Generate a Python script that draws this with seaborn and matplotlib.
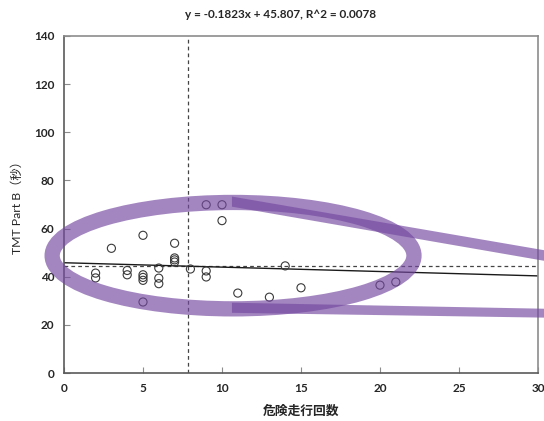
import numpy as np
import pandas as pd
import matplotlib
matplotlib.use("Agg")
import matplotlib.pyplot as plt
from matplotlib.patches import Ellipse, Polygon
import seaborn as sns

# Observations: dangerous-driving count vs. TMT Part B time (s)
danger_count = [2, 2, 3, 4, 4, 5, 5, 5, 5, 5, 6, 6, 6, 7, 7, 7, 7, 8,
                9, 9, 9, 10, 10, 11, 13, 14, 15, 20, 21]
tmt_b_sec = [41.5, 39.5, 51.8, 42.6, 40.8, 57.2, 40.8, 39.7, 38.5, 29.5,
             43.6, 39.4, 37.1, 53.9, 47.8, 47.0, 46.1, 43.2, 69.9, 42.4,
             39.9, 69.9, 63.3, 33.2, 31.5, 44.5, 35.4, 36.5, 37.8]

# Fitted regression and mean reference lines
slope, intercept, r2 = -0.1823, 45.807, 0.0078
mean_x, mean_y = 7.85, 44.6

x_ticks = [0, 5, 10, 15, 20, 25, 30]
y_ticks = [0, 20, 40, 60, 80, 100, 120, 140]

sns.set_theme(style="white")
plt.rcParams["font.family"] = ["Lato", "Noto Sans CJK JP", "DejaVu Sans"]

fig = plt.figure(figsize=(5.44, 4.21), dpi=100)
ax = fig.add_axes([64 / 544, 48 / 421, 474 / 544, 337 / 421])

df = pd.DataFrame({"x": danger_count, "y": tmt_b_sec})
sns.scatterplot(data=df, x="x", y="y", ax=ax, s=34, marker="o",
                facecolor="none", edgecolor="#3a3a3a", linewidth=0.8,
                zorder=3)

fit = pd.DataFrame({"x": [0, 30]})
fit["y"] = slope * fit["x"] + intercept
sns.lineplot(data=fit, x="x", y="y", ax=ax, color="#1a1a1a", linewidth=1.0,
             zorder=2)

ax.axvline(mean_x, color="#444444", linewidth=0.9, linestyle=(0, (3, 2.5)),
           zorder=1)
ax.axhline(mean_y, color="#444444", linewidth=0.9, linestyle=(0, (3, 2.5)),
           zorder=1)

ax.set_xlim(0, 30)
ax.set_ylim(0, 140)
ax.set_xticks(x_ticks)
ax.set_yticks(y_ticks)
ax.tick_params(direction="in", length=4, width=0.8, color="#8c8c8c",
               labelsize=8.5, pad=7, left=True, bottom=True)
for lab in ax.get_xticklabels() + ax.get_yticklabels():
    lab.set_fontweight("bold")
    lab.set_color("#262626")
ax.set_xlabel("危険走行回数", fontsize=9.2, fontweight="bold",
              color="#262626", labelpad=8)
ax.set_ylabel("TMT Part B（秒）", fontsize=8.8, color="#262626",
              labelpad=8)
for side, col in [("left", "#5a5a5a"), ("bottom", "#5a5a5a"),
                  ("top", "#8c8c8c"), ("right", "#8c8c8c")]:
    ax.spines[side].set_color(col)
    ax.spines[side].set_linewidth(1.2)

fig.text(281 / 544, 1 - 15 / 421,
         f"y = {slope}x + {intercept}, R^2 = {r2}",
         ha="center", va="center", fontsize=8.5, fontweight="bold",
         color="#262626")

# Highlight: ellipse around the cluster with two callout bands
hl_color = (0.455, 0.282, 0.627)
hl_alpha = 0.66
ax.add_patch(Ellipse((10.7, 48.75), 22.9, 44.2, fill=False,
                     edgecolor=hl_color, alpha=hl_alpha, linewidth=11,
                     zorder=4, clip_on=False))
ax.add_patch(Polygon([(10.63, 73.3), (30.4, 51.0), (30.4, 46.6),
                      (10.63, 69.1)], closed=True, facecolor=hl_color,
                     edgecolor="none", alpha=hl_alpha, zorder=4,
                     clip_on=False))
ax.add_patch(Polygon([(10.63, 29.2), (30.4, 26.7), (30.4, 23.0),
                      (10.63, 25.0)], closed=True, facecolor=hl_color,
                     edgecolor="none", alpha=hl_alpha, zorder=4,
                     clip_on=False))

fig.savefig("out.png", dpi=100)
